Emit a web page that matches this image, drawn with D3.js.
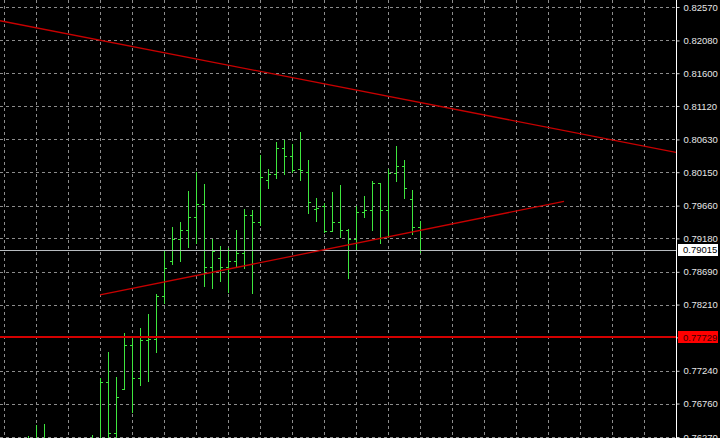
<!DOCTYPE html>
<html>
<head>
<meta charset="utf-8">
<script src="https://cdn.jsdelivr.net/npm/d3@7"></script>
<style>
  html, body { margin: 0; padding: 0; background: #000; }
  svg { display: block; }
</style>
</head>
<body>
<svg id="chart" width="720" height="438"></svg>
<script>
// ---- data (bar slots and OHLC prices) ----
const barSlots = [3, 4, 5, 11, 12, 13, 14, 15, 16, 17, 18, 19, 20, 21, 22, 23, 24, 25, 26, 27, 28, 29, 30, 31, 32, 33, 34, 35, 36, 37, 38, 39, 40, 41, 42, 43, 44, 45, 46, 47, 48, 49, 50, 51, 52];
const opens  = [0.76220, 0.76180, 0.76240, 0.76180, 0.76240, 0.77072, 0.76329, 0.76969, 0.77622, 0.77130, 0.77691, 0.77701, 0.78336, 0.78849, 0.79164, 0.79298, 0.79489, 0.79684, 0.78765, 0.78888, 0.78765, 0.78849, 0.78961, 0.79523, 0.79416, 0.80035, 0.80123, 0.80500, 0.80391, 0.80192, 0.80157, 0.79611, 0.79659, 0.79288, 0.79424, 0.79296, 0.79167, 0.79571, 0.79596, 0.79996, 0.79596, 0.80134, 0.80241, 0.79753, 0.79342];
const highs  = [0.76285, 0.76446, 0.76461, 0.76299, 0.77130, 0.77511, 0.77149, 0.77789, 0.77740, 0.77863, 0.78072, 0.78365, 0.79010, 0.79351, 0.79420, 0.79874, 0.80148, 0.79977, 0.79167, 0.79068, 0.79035, 0.79303, 0.79606, 0.79596, 0.80402, 0.80197, 0.80597, 0.80621, 0.80563, 0.80734, 0.80328, 0.79767, 0.79694, 0.79855, 0.79955, 0.79313, 0.79659, 0.79801, 0.80021, 0.79996, 0.80192, 0.80534, 0.80328, 0.79889, 0.79439];
const lows   = [0.76150, 0.76100, 0.76120, 0.76120, 0.76200, 0.76200, 0.76260, 0.76969, 0.76641, 0.77032, 0.77095, 0.77520, 0.78226, 0.78805, 0.78853, 0.79058, 0.79108, 0.78482, 0.78449, 0.78560, 0.78399, 0.78765, 0.78742, 0.78375, 0.79372, 0.79914, 0.80060, 0.80119, 0.80148, 0.80035, 0.79548, 0.79439, 0.79269, 0.79288, 0.79193, 0.78595, 0.79010, 0.79498, 0.79303, 0.79108, 0.79205, 0.80025, 0.79767, 0.79244, 0.78985];
const closes = [0.76260, 0.76240, 0.76200, 0.76250, 0.77072, 0.76329, 0.76861, 0.77622, 0.77130, 0.77691, 0.77701, 0.78336, 0.78742, 0.79164, 0.79298, 0.79489, 0.79684, 0.78765, 0.78995, 0.78765, 0.78849, 0.78961, 0.79523, 0.79416, 0.80079, 0.80123, 0.80500, 0.80391, 0.80182, 0.80182, 0.79717, 0.79621, 0.79288, 0.79424, 0.79296, 0.79167, 0.79571, 0.79596, 0.79996, 0.79596, 0.80134, 0.80241, 0.79914, 0.79342, 0.79015];

const priceTicks = [0.82570, 0.82080, 0.81600, 0.81120, 0.80630, 0.80150, 0.79660, 0.79180, 0.78690, 0.78210, 0.77730, 0.77240, 0.76760, 0.76270];
const gridSlots = [0, 4, 8, 12, 16, 20, 24, 28, 32, 36, 40, 44, 48, 52, 56, 60, 64, 68, 72, 76, 80];

// trend lines: [slot, price] anchor pairs
const trendUpper = [[-0.5, 0.82369], [84, 0.80441]];
const trendLower = [[12, 0.78351], [70, 0.79723]];
const levelRed = 0.77729;
const bidPrice = 0.79015;

// ---- layout ----
const W = 720, H = 438, plotRight = 676;
const svg = d3.select("#chart");
const x = d3.scaleLinear().domain([0, 84]).range([4, plotRight]);
const y = d3.scaleLinear().domain([0.76270, 0.82570]).range([437, 7]);
const px = v => Math.round(x(v)) + 0.5;
const py = v => Math.round(y(v)) + 0.5;

svg.append("rect").attr("width", W).attr("height", H).attr("fill", "#000");

svg.append("defs").append("clipPath").attr("id", "plotClip")
  .append("rect").attr("x", 0).attr("y", 0).attr("width", plotRight).attr("height", H);

const plot = svg.append("g").attr("clip-path", "url(#plotClip)");

// grid
const gridColor = "#8c8c8c";
plot.append("g").selectAll("line").data(priceTicks).join("line")
  .attr("x1", 0).attr("x2", plotRight)
  .attr("y1", d => py(d)).attr("y2", d => py(d))
  .attr("stroke", gridColor).attr("stroke-width", 1).attr("stroke-dasharray", "3,3");
plot.append("g").selectAll("line").data(gridSlots).join("line")
  .attr("x1", d => px(d)).attr("x2", d => px(d))
  .attr("y1", 0).attr("y2", H)
  .attr("stroke", gridColor).attr("stroke-width", 1).attr("stroke-dasharray", "3,3");

// OHLC bars
const bars = barSlots.map((s, i) => ({ s, o: opens[i], h: highs[i], l: lows[i], c: closes[i] }));
const green = "#3ee63e";
const gBars = plot.append("g").attr("stroke", green).attr("stroke-width", 1).attr("shape-rendering", "crispEdges");
gBars.selectAll("line.hl").data(bars).join("line").attr("class", "hl")
  .attr("x1", d => px(d.s)).attr("x2", d => px(d.s))
  .attr("y1", d => Math.round(y(d.h))).attr("y2", d => Math.round(y(d.l)) + 1);
gBars.selectAll("line.op").data(bars).join("line").attr("class", "op")
  .attr("x1", d => Math.round(x(d.s)) - 2).attr("x2", d => Math.round(x(d.s)))
  .attr("y1", d => py(d.o)).attr("y2", d => py(d.o));
gBars.selectAll("line.cl").data(bars).join("line").attr("class", "cl")
  .attr("x1", d => Math.round(x(d.s)) + 1).attr("x2", d => Math.round(x(d.s)) + 3)
  .attr("y1", d => py(d.c)).attr("y2", d => py(d.c));

// horizontal level lines
plot.append("line")
  .attr("x1", 0).attr("x2", plotRight).attr("y1", py(bidPrice)).attr("y2", py(bidPrice))
  .attr("stroke", "#b8bcc0").attr("stroke-width", 1).attr("shape-rendering", "crispEdges");
plot.append("line")
  .attr("x1", 0).attr("x2", plotRight).attr("y1", Math.round(y(levelRed))).attr("y2", Math.round(y(levelRed)))
  .attr("stroke", "#d40000").attr("stroke-width", 2).attr("shape-rendering", "crispEdges");

// trend lines
const line = d3.line().x(d => x(d[0])).y(d => y(d[1]));
[trendUpper, trendLower].forEach(t => {
  plot.append("path").attr("d", line(t))
    .attr("fill", "none").attr("stroke", "#c80000").attr("stroke-width", 1.3);
});

// right price axis
const axis = d3.axisRight(y).tickValues(priceTicks).tickSize(3).tickPadding(4)
  .tickFormat(d3.format(".5f"));
const gAxis = svg.append("g").attr("transform", `translate(${plotRight + 0.5},0)`).call(axis);
gAxis.select(".domain").remove();
gAxis.selectAll(".tick line").attr("stroke", "#d0d0d0");
gAxis.selectAll(".tick text")
  .attr("fill", "#e6e6e6")
  .attr("font-family", "'Liberation Sans', Arial, sans-serif")
  .attr("font-size", "9.5px");

svg.append("line")
  .attr("x1", plotRight + 0.5).attr("x2", plotRight + 0.5).attr("y1", 0).attr("y2", H)
  .attr("stroke", "#ffffff").attr("stroke-width", 1);

// price labels for level lines
function priceLabel(price, bg, fg) {
  const cy = y(price);
  const g = svg.append("g");
  g.append("rect").attr("x", 678).attr("y", Math.round(cy) - 6).attr("width", 40).attr("height", 12).attr("fill", bg);
  g.append("text").attr("x", 683).attr("y", cy).attr("dy", "0.34em")
    .attr("fill", fg)
    .attr("font-family", "'Liberation Sans', Arial, sans-serif")
    .attr("font-size", "9.5px")
    .text(d3.format(".5f")(price));
}
priceLabel(bidPrice, "#ffffff", "#000000");
priceLabel(levelRed, "#ff0000", "#3a0000");
</script>
</body>
</html>
